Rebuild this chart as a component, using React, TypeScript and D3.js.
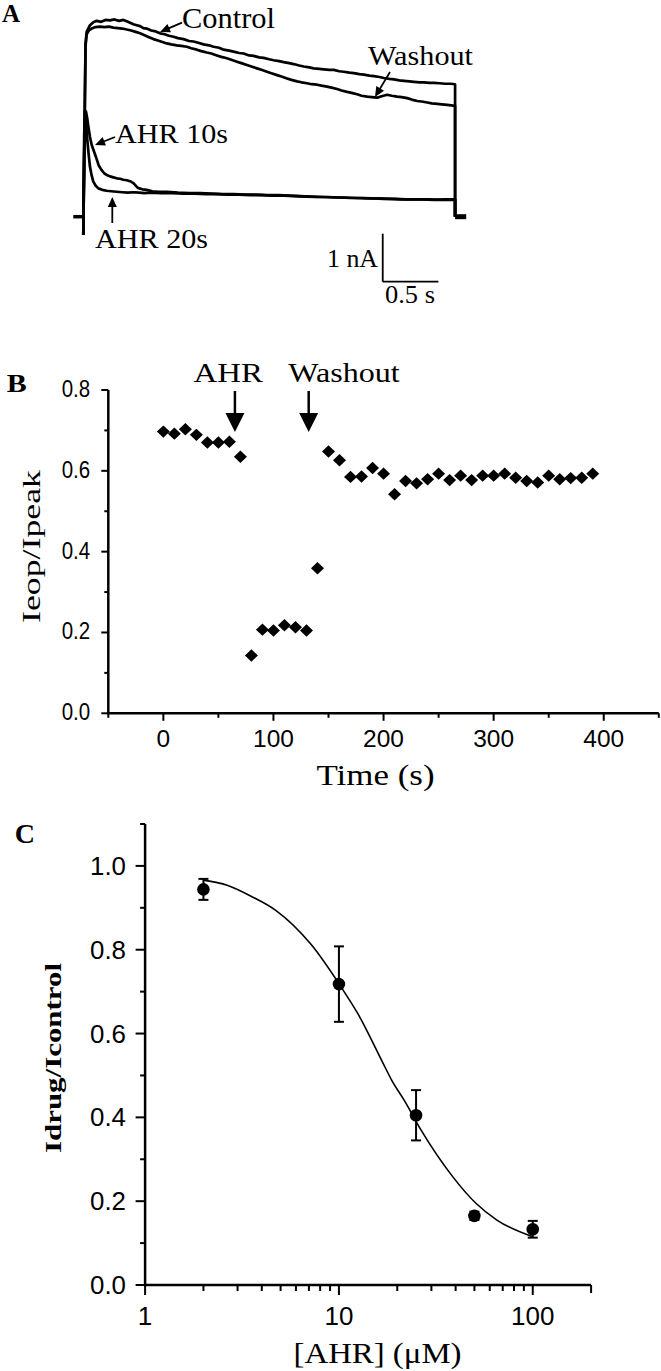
import React from "react";
import * as d3 from "d3";

// ---------- Panel A: current traces [time (s), current (nA)] ----------
const controlTrace: [number, number][] = [
  [0.02, 3.6], [0.03, 3.85], [0.06, 3.99], [0.09, 4.05], [0.12, 4.08], [0.16, 4.06], [0.2, 4.1], [0.24, 4.09],
  [0.28, 4.11], [0.32, 4.08], [0.36, 4.1], [0.39, 4.07], [0.42, 4.04], [0.45, 4.01], [0.48, 3.99], [0.51, 3.97],
  [0.54, 3.93], [0.57, 3.92], [0.61, 3.88], [0.65, 3.86], [0.69, 3.82], [0.73, 3.8], [0.77, 3.77], [0.81, 3.75],
  [0.85, 3.72], [0.9, 3.7], [0.95, 3.66], [0.99, 3.65], [1.04, 3.62], [1.08, 3.59], [1.13, 3.57], [1.17, 3.54],
  [1.22, 3.52], [1.26, 3.48], [1.31, 3.46], [1.35, 3.44], [1.4, 3.41], [1.44, 3.4], [1.49, 3.36], [1.53, 3.35],
  [1.58, 3.32], [1.62, 3.31], [1.67, 3.28], [1.71, 3.26], [1.76, 3.24], [1.8, 3.22], [1.85, 3.2], [1.89, 3.18],
  [1.94, 3.15], [1.98, 3.13], [2.03, 3.11], [2.07, 3.09], [2.12, 3.08], [2.16, 3.07], [2.21, 3.06], [2.25, 3.06],
  [2.3, 3.03], [2.34, 3.02], [2.39, 3.0], [2.43, 2.99], [2.48, 2.97], [2.52, 2.96], [2.57, 2.94], [2.61, 2.93],
  [2.66, 2.91], [2.7, 2.89], [2.75, 2.87], [2.79, 2.86], [2.84, 2.84], [2.88, 2.83], [2.93, 2.82], [2.97, 2.81],
  [3.02, 2.8], [3.06, 2.8], [3.11, 2.79], [3.15, 2.79], [3.2, 2.78], [3.25, 2.77], [3.3, 2.77], [3.34, 2.76],
];
const washoutTrace: [number, number][] = [
  [0.02, 3.55], [0.03, 3.8], [0.05, 3.88], [0.075, 3.92], [0.11, 3.95], [0.15, 3.96], [0.19, 3.95], [0.23, 3.96],
  [0.27, 3.94], [0.31, 3.93], [0.35, 3.92], [0.39, 3.9], [0.43, 3.88], [0.47, 3.85], [0.51, 3.82], [0.55, 3.78],
  [0.59, 3.74], [0.63, 3.7], [0.67, 3.67], [0.71, 3.64], [0.75, 3.61], [0.79, 3.59], [0.84, 3.57], [0.88, 3.56],
  [0.93, 3.54], [0.97, 3.51], [1.02, 3.48], [1.06, 3.45], [1.11, 3.42], [1.15, 3.4], [1.2, 3.36], [1.24, 3.33],
  [1.29, 3.3], [1.33, 3.27], [1.38, 3.23], [1.42, 3.2], [1.47, 3.16], [1.51, 3.13], [1.56, 3.09], [1.6, 3.06],
  [1.65, 3.02], [1.69, 2.99], [1.74, 2.95], [1.78, 2.92], [1.83, 2.88], [1.87, 2.85], [1.92, 2.82], [1.96, 2.8],
  [2.01, 2.78], [2.05, 2.76], [2.1, 2.75], [2.14, 2.73], [2.19, 2.71], [2.23, 2.69], [2.28, 2.66], [2.32, 2.63],
  [2.37, 2.6], [2.41, 2.58], [2.46, 2.55], [2.5, 2.52], [2.55, 2.5], [2.59, 2.49], [2.64, 2.48], [2.68, 2.51],
  [2.73, 2.54], [2.77, 2.52], [2.82, 2.5], [2.86, 2.49], [2.91, 2.47], [2.95, 2.44], [3.0, 2.41], [3.04, 2.4],
  [3.09, 2.38], [3.13, 2.36], [3.18, 2.35], [3.22, 2.34], [3.27, 2.33], [3.34, 2.31],
];
const ahr10Trace: [number, number][] = [
  [0.01, 1.6], [0.024, 2.19], [0.035, 2.05], [0.045, 1.88], [0.06, 1.66], [0.075, 1.5], [0.09, 1.4], [0.105, 1.3],
  [0.12, 1.2], [0.14, 1.06], [0.165, 0.97], [0.19, 0.9], [0.21, 0.87], [0.24, 0.84], [0.27, 0.82], [0.3, 0.8],
  [0.33, 0.79], [0.36, 0.77], [0.39, 0.76], [0.42, 0.74], [0.45, 0.7], [0.49, 0.6], [0.53, 0.57], [0.57, 0.56],
  [0.62, 0.53], [0.68, 0.52], [0.75, 0.52], [0.85, 0.5], [0.95, 0.49], [1.05, 0.49], [1.15, 0.48], [1.25, 0.47],
  [1.35, 0.47], [1.45, 0.46], [1.55, 0.46], [1.65, 0.45], [1.75, 0.45], [1.85, 0.44], [1.95, 0.43], [2.05, 0.42],
  [2.15, 0.41], [2.25, 0.4], [2.35, 0.4], [2.45, 0.39], [2.55, 0.38], [2.65, 0.38], [2.75, 0.37], [2.85, 0.36],
  [2.95, 0.36], [3.05, 0.36], [3.15, 0.35], [3.25, 0.36], [3.34, 0.36],
];
const ahr20Trace: [number, number][] = [
  [0.008, 1.7], [0.015, 2.22], [0.025, 1.95], [0.036, 1.6], [0.048, 1.3], [0.06, 1.04], [0.075, 0.86], [0.09, 0.73],
  [0.11, 0.65], [0.135, 0.59], [0.17, 0.56], [0.21, 0.54], [0.25, 0.53], [0.3, 0.52], [0.35, 0.51], [0.4, 0.5],
  [0.45, 0.51], [0.5, 0.5], [0.55, 0.49], [0.6, 0.5], [0.7, 0.49], [0.8, 0.49], [0.9, 0.48], [1.0, 0.48],
  [1.1, 0.47], [1.2, 0.47], [1.3, 0.46], [1.4, 0.46], [1.5, 0.45], [1.6, 0.45], [1.7, 0.44], [1.8, 0.44],
  [1.9, 0.43], [2.0, 0.42], [2.1, 0.41], [2.2, 0.41], [2.3, 0.4], [2.4, 0.39], [2.5, 0.39], [2.6, 0.38],
  [2.7, 0.37], [2.8, 0.37], [2.9, 0.36], [3.0, 0.36], [3.1, 0.36], [3.2, 0.35], [3.34, 0.35],
];
const capacitiveDip = -0.38;

// ---------- Panel B: Ieop/Ipeak vs time ----------
const bTimes = [
  0, 10, 20, 30, 40, 50, 60, 70,
  80, 90, 100, 110, 120, 130, 140,
  150, 160, 170, 180, 190, 200, 210, 220, 230, 240, 250, 260, 270, 280, 290,
  300, 310, 320, 330, 340, 350, 360, 370, 380, 390,
];
const bRatios = [
  0.697, 0.692, 0.703, 0.689, 0.67, 0.67, 0.672, 0.635,
  0.143, 0.207, 0.205, 0.218, 0.213, 0.205, 0.359,
  0.648, 0.626, 0.585, 0.586, 0.607, 0.593, 0.542, 0.575, 0.569, 0.579, 0.593, 0.577, 0.588, 0.577, 0.588,
  0.588, 0.593, 0.583, 0.575, 0.571, 0.588, 0.579, 0.582, 0.583, 0.593,
];
const bXTicks = [0, 100, 200, 300, 400];
const bXMinor = [-50, 50, 150, 250, 350, 450];
const bYTicks = [0, 0.2, 0.4, 0.6, 0.8];
const bYMinor = [0.1, 0.3, 0.5, 0.7];
const bArrowTimes = [65, 132];
const bArrowLabels = ["AHR", "Washout"];

// ---------- Panel C: concentration-response ----------
const cConc = [2, 10, 25, 50, 100];
const cMean = [0.944, 0.718, 0.405, 0.165, 0.133];
const cErr = [0.025, 0.09, 0.06, 0.01, 0.02];
const fitConc = [2, 2.65, 3.58, 4.72, 7.23, 10.26, 12.5, 16.9, 18.7, 21.7, 26.5, 38.7, 50.9, 65.3, 100];
const fitValue = [0.966, 0.954, 0.926, 0.894, 0.811, 0.711, 0.648, 0.529, 0.489, 0.441, 0.37, 0.258, 0.195, 0.155, 0.115];
const cXTicks = [1, 10, 100];
const cXMinor = [2, 3, 4, 5, 6, 7, 8, 9, 20, 30, 40, 50, 60, 70, 80, 90, 200];
const cYTicks = [0, 0.2, 0.4, 0.6, 0.8, 1.0];
const cYMinor = [0.1, 0.3, 0.5, 0.7, 0.9, 1.1];

const SERIF = "'Liberation Serif', 'Times New Roman', serif";
const SANS = "'Liberation Sans', Arial, sans-serif";

export default function App() {
  // Panel A scales
  const xA = d3.scaleLinear().domain([0, 3.35]).range([83.3, 456.2]);
  const yA = d3.scaleLinear().domain([0, 1]).range([216.7, 168.7]);
  const lineA = d3.line<[number, number]>().x((d) => xA(d[0])).y((d) => yA(d[1]));
  const tracePath = (tr: [number, number][]) =>
    lineA([[0, capacitiveDip], ...tr, [tr[tr.length - 1][0], 0]] as [number, number][]) || "";
  const tEnd = controlTrace[controlTrace.length - 1][0];
  const sbT = 2.69, sbI = -1.354;

  // Panel B scales
  const xB = d3.scaleLinear().domain([-50, 450]).range([108.3, 658.8]);
  const yB = d3.scaleLinear().domain([0, 0.8]).range([713.3, 390]);

  // Panel C scales
  const xC = d3.scaleLog().domain([1, 200]).range([145.1, 591.1]);
  const yC = d3.scaleLinear().domain([0, 1.1]).range([1285, 824]);
  const fitLine = d3
    .line<number>()
    .x((_, i) => xC(fitConc[i]))
    .y((d) => yC(d))
    .curve(d3.curveMonotoneX);

  const arrowHead = (x: number, y: number, ang: number, len = 10, half = 4.5) => {
    const bx = x - len * Math.cos(ang), by = y - len * Math.sin(ang);
    const px = -Math.sin(ang) * half, py = Math.cos(ang) * half;
    return `M${x},${y}L${bx + px},${by + py}L${bx - px},${by - py}Z`;
  };
  const arrow = (x1: number, y1: number, x2: number, y2: number, key: string) => {
    const ang = Math.atan2(y2 - y1, x2 - x1);
    return (
      <g key={key}>
        <line x1={x1} y1={y1} x2={x2 - 6 * Math.cos(ang)} y2={y2 - 6 * Math.sin(ang)} stroke="#000" strokeWidth={1.8} />
        <path d={arrowHead(x2, y2, ang)} fill="#000" />
      </g>
    );
  };

  return (
    <svg
      width={661}
      height={1371}
      viewBox="0 0 661 1371"
      style={{ position: "absolute", left: 0, top: 0, background: "#fff" }}
    >
      <rect x={0} y={0} width={661} height={1371} fill="#fff" />

      {/* ================= Panel A ================= */}
      <text x={2} y={21.7} fontFamily={SERIF} fontWeight="bold" fontSize={25}>A</text>
      <line x1={xA(-0.09)} x2={xA(0)} y1={yA(0)} y2={yA(0)} stroke="#000" strokeWidth={3.5} />
      <line x1={xA(tEnd)} x2={xA(tEnd + 0.1)} y1={yA(0)} y2={yA(0)} stroke="#000" strokeWidth={5} />
      {[controlTrace, washoutTrace, ahr10Trace, ahr20Trace].map((tr, i) => (
        <path key={i} d={tracePath(tr)} fill="none" stroke="#000" strokeWidth={2.7} strokeLinejoin="round" />
      ))}
      <line x1={xA(sbT)} x2={xA(sbT)} y1={yA(sbI + 1)} y2={yA(sbI)} stroke="#000" strokeWidth={1.8} />
      <line x1={xA(sbT)} x2={xA(sbT + 0.5)} y1={yA(sbI)} y2={yA(sbI)} stroke="#000" strokeWidth={1.8} />
      <text x={327} y={267} fontFamily={SERIF} fontSize={26} textLength={51} lengthAdjust="spacingAndGlyphs">1 nA</text>
      <text x={385} y={303.3} fontFamily={SERIF} fontSize={25} textLength={50} lengthAdjust="spacingAndGlyphs">0.5 s</text>
      <text x={182} y={28.3} fontFamily={SERIF} fontSize={29} textLength={93} lengthAdjust="spacingAndGlyphs">Control</text>
      {arrow(182, 22.7, 160, 32, "ac")}
      <text x={368} y={65} fontFamily={SERIF} fontSize={28} textLength={105} lengthAdjust="spacingAndGlyphs">Washout</text>
      {arrow(390, 72, 375, 97, "aw")}
      <text x={115} y={143} fontFamily={SERIF} fontSize={28} textLength={113} lengthAdjust="spacingAndGlyphs">AHR 10s</text>
      {arrow(115, 137, 95, 145, "a10")}
      <text x={95} y={248.3} fontFamily={SERIF} fontSize={28} textLength={113} lengthAdjust="spacingAndGlyphs">AHR 20s</text>
      {arrow(112.3, 223, 112.3, 197, "a20")}

      {/* ================= Panel B ================= */}
      <text x={6.7} y={391.7} fontFamily={SERIF} fontWeight="bold" fontSize={25} textLength={20} lengthAdjust="spacingAndGlyphs">B</text>
      <g stroke="#000" strokeWidth={2.5} fill="none">
        <line x1={xB(-50)} x2={xB(-50)} y1={yB(0.8)} y2={yB(0) + 1.2} />
        <line x1={xB(-50) - 1.2} x2={xB(450)} y1={yB(0)} y2={yB(0)} />
      </g>
      {bYTicks.map((v) => (
        <g key={"by" + v}>
          <line x1={xB(-50) - 7} x2={xB(-50)} y1={yB(v)} y2={yB(v)} stroke="#000" strokeWidth={2} />
          <text x={61.7} y={yB(v) + 7} fontFamily={SANS} fontSize={23} textLength={28.5} lengthAdjust="spacingAndGlyphs">
            {d3.format(".1f")(v)}
          </text>
        </g>
      ))}
      {bYMinor.map((v) => (
        <line key={"bym" + v} x1={xB(-50) - 4} x2={xB(-50)} y1={yB(v)} y2={yB(v)} stroke="#000" strokeWidth={2} />
      ))}
      {bXTicks.map((v) => (
        <g key={"bx" + v}>
          <line x1={xB(v)} x2={xB(v)} y1={yB(0)} y2={yB(0) + 7.5} stroke="#000" strokeWidth={2} />
          <text x={xB(v)} y={746.7} textAnchor="middle" fontFamily={SANS} fontSize={24.5}>{v}</text>
        </g>
      ))}
      {bXMinor.map((v) => (
        <line key={"bxm" + v} x1={xB(v)} x2={xB(v)} y1={yB(0)} y2={yB(0) + 4.5} stroke="#000" strokeWidth={2} />
      ))}
      <text x={375.5} y={785} textAnchor="middle" fontFamily={SERIF} fontSize={29} textLength={118} lengthAdjust="spacingAndGlyphs">Time (s)</text>
      <text
        transform="translate(40,546.5) rotate(-90)"
        textAnchor="middle"
        fontFamily={SERIF}
        fontSize={26}
        textLength={153}
        lengthAdjust="spacingAndGlyphs"
      >
        Ieop/Ipeak
      </text>
      {bArrowTimes.map((t, i) => (
        <g key={"ba" + i}>
          <line x1={xB(t)} x2={xB(t)} y1={391} y2={414} stroke="#000" strokeWidth={2.5} />
          <path d={`M${xB(t) - 9.5},413L${xB(t) + 9.5},413L${xB(t)},432Z`} fill="#000" />
        </g>
      ))}
      <text x={193.5} y={381.7} fontFamily={SERIF} fontSize={27} textLength={69.5} lengthAdjust="spacingAndGlyphs">{bArrowLabels[0]}</text>
      <text x={288.2} y={382} fontFamily={SERIF} fontSize={27} textLength={111.5} lengthAdjust="spacingAndGlyphs">{bArrowLabels[1]}</text>
      {bTimes.map((t, i) => {
        const cx = xB(t), cy = yB(bRatios[i]);
        return <path key={"bp" + i} d={`M${cx},${cy - 6.2}L${cx + 6.5},${cy}L${cx},${cy + 6.2}L${cx - 6.5},${cy}Z`} fill="#000" />;
      })}

      {/* ================= Panel C ================= */}
      <text x={14.7} y={842.7} fontFamily={SERIF} fontWeight="bold" fontSize={28}>C</text>
      <g stroke="#000" strokeWidth={2.5} fill="none">
        <line x1={xC(1)} x2={xC(1)} y1={yC(1.1)} y2={yC(0) + 1.2} />
        <line x1={xC(1) - 1.2} x2={xC(200)} y1={yC(0)} y2={yC(0)} />
      </g>
      {cYTicks.map((v) => (
        <g key={"cy" + v}>
          <line x1={xC(1) - 9.5} x2={xC(1)} y1={yC(v)} y2={yC(v)} stroke="#000" strokeWidth={2} />
          <text x={90} y={yC(v) + 9} fontFamily={SANS} fontSize={25} textLength={36} lengthAdjust="spacingAndGlyphs">
            {d3.format(".1f")(v)}
          </text>
        </g>
      ))}
      {cYMinor.map((v) => (
        <line key={"cym" + v} x1={xC(1) - 5} x2={xC(1)} y1={yC(v)} y2={yC(v)} stroke="#000" strokeWidth={2} />
      ))}
      {cXTicks.map((v) => (
        <g key={"cx" + v}>
          <line x1={xC(v)} x2={xC(v)} y1={yC(0)} y2={yC(0) + 10} stroke="#000" strokeWidth={2} />
          <text x={xC(v)} y={1325} textAnchor="middle" fontFamily={SANS} fontSize={26}>{v}</text>
        </g>
      ))}
      {cXMinor.map((v) => (
        <line key={"cxm" + v} x1={xC(v)} x2={xC(v)} y1={yC(0)} y2={yC(0) + (v === 200 ? 8 : 6)} stroke="#000" strokeWidth={2} />
      ))}
      <text x={377.5} y={1363} textAnchor="middle" fontFamily={SERIF} fontSize={29} textLength={168} lengthAdjust="spacingAndGlyphs">[AHR] (μM)</text>
      <text
        transform="translate(61,1058) rotate(-90)"
        textAnchor="middle"
        fontFamily={SERIF}
        fontWeight="bold"
        fontSize={24}
        textLength={190}
        lengthAdjust="spacingAndGlyphs"
      >
        Idrug/Icontrol
      </text>
      <path d={fitLine(fitValue) || ""} fill="none" stroke="#000" strokeWidth={1.6} />
      {cConc.map((c, i) => {
        const x = xC(c);
        const y0 = yC(cMean[i] - cErr[i]), y1 = yC(cMean[i] + cErr[i]);
        return (
          <g key={"cp" + i}>
            <line x1={x} x2={x} y1={y0} y2={y1} stroke="#000" strokeWidth={2} />
            <line x1={x - 5} x2={x + 5} y1={y0} y2={y0} stroke="#000" strokeWidth={2} />
            <line x1={x - 5} x2={x + 5} y1={y1} y2={y1} stroke="#000" strokeWidth={2} />
            <circle cx={x} cy={yC(cMean[i])} r={6.3} fill="#000" />
          </g>
        );
      })}
    </svg>
  );
}
